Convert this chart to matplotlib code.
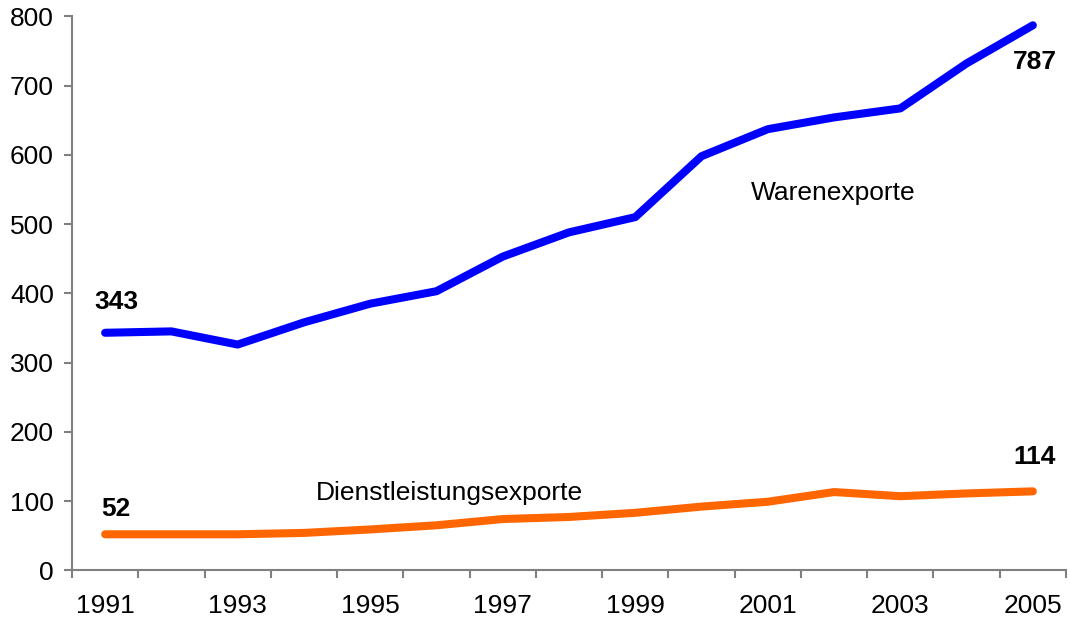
import matplotlib.pyplot as plt
import numpy as np

plt.rcParams['font.family'] = ['Liberation Sans', 'DejaVu Sans']

years = list(range(1991, 2006))
waren = [343, 345, 326, 358, 385, 403, 453, 488, 510, 598, 637, 654, 667, 732, 787]
dienst = [52, 52, 52, 54, 59, 65, 74, 77, 83, 92, 99, 113, 107, 111, 114]
tick_years = years[::2]

font_size = 19
axis_grey = '#808080'

fig = plt.figure(figsize=(10.7, 6.22), dpi=100)
ax = fig.add_axes([72/1070, 51.7/622, 994/1070, 554/622])

x = np.arange(len(years))
ax.plot(x, waren, color='#0000FF', linewidth=5.8, solid_capstyle='round', solid_joinstyle='round')
ax.plot(x, dienst, color='#FF6600', linewidth=5.8, solid_capstyle='round', solid_joinstyle='round')

ax.set_xlim(-0.5, len(years) - 0.5)
ax.set_ylim(0, 800)
ax.set_yticks(range(0, 801, 100))
ax.set_xticks([years.index(y) for y in tick_years])
ax.set_xticklabels([str(y) for y in tick_years])
ax.set_xticks(np.arange(-0.5, len(years)), minor=True)

for side in ['top', 'right']:
  ax.spines[side].set_visible(False)
for side in ['left', 'bottom']:
  ax.spines[side].set_color(axis_grey)
  ax.spines[side].set_linewidth(1.5)

ax.tick_params(axis='y', direction='out', length=6, width=1.5, color=axis_grey, labelsize=font_size, pad=7)
ax.tick_params(axis='x', which='major', length=0, labelsize=font_size, pad=17)
ax.tick_params(axis='x', which='minor', direction='out', length=6, width=1.5, color=axis_grey)

# endpoint value labels
def label(i, series, dx, dy):
  ax.annotate(str(series[i]), (x[i], series[i]), xytext=(dx, dy), textcoords='offset pixels',
              ha='center', va='center', fontsize=font_size, fontweight='bold')

label(0, waren, 11, 31)
label(0, dienst, 11, 25)
label(-1, waren, 2, -37)
label(-1, dienst, 2, 34)

ax.text(10.98, 545, 'Warenexporte', ha='center', va='center', fontsize=font_size)
ax.text(5.2, 112, 'Dienstleistungsexporte', ha='center', va='center', fontsize=font_size)

plt.savefig('out.png', dpi=100)
